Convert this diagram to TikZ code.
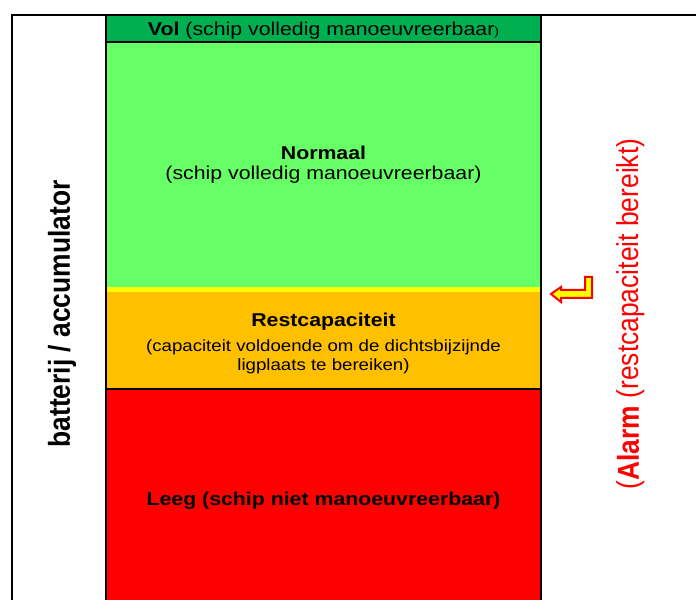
\documentclass[tikz,border=0pt]{standalone}
\usepackage{fontspec}
\setmainfont{Liberation Sans}
\usetikzlibrary{positioning}

\definecolor{volgroen}{HTML}{00B050}
\definecolor{normaalgroen}{HTML}{66FF66}
\definecolor{grensgeel}{HTML}{FFFF00}
\definecolor{restoranje}{HTML}{FFC000}
\definecolor{leegrood}{HTML}{FF0000}

\tikzset{
  blok/.style={rectangle, inner sep=0pt, outer sep=0pt, minimum width=435pt, anchor=north west},
  tekst/.style={font=\fontsize{18.6}{21}\selectfont, xscale=1.145, transform shape, anchor=base, inner sep=0pt},
  kleintekst/.style={font=\fontsize{16.3}{19}\selectfont, xscale=1.145, transform shape, anchor=base, inner sep=0pt},
  zijtekst/.style={font=\fontsize{26.4}{30}\selectfont, rotate=90, yscale=1.145, transform shape, inner sep=0pt},
  lijn/.style={line width=2pt}
}

\begin{document}
\begin{tikzpicture}[x=1pt, y=1pt]
  \useasboundingbox (0,0) rectangle (696,600);

  % Blocks of the battery column
  \node[blok, fill=volgroen, minimum height=27pt] (vol) at (106,585) {};
  \node[blok, fill=normaalgroen, minimum height=245pt, below=0pt of vol] (normaal) {};
  \node[blok, fill=grensgeel, minimum height=5pt, below=0pt of normaal] (grens) {};
  \node[blok, fill=restoranje, minimum height=97pt, below=0pt of grens] (rest) {};
  \node[blok, fill=leegrood, minimum height=211pt, below=0pt of rest] (leeg) {};

  % Frame and separators
  \draw[lijn] (12,0) |- (696,585);
  \draw[lijn] (leeg.south west) -- (vol.north west) -- (vol.north east) -- (leeg.south east);
  \draw[lijn] (vol.south west) -- (vol.south east);
  \draw[lijn] (leeg.north west) -- (leeg.north east);

  % Texts in the blocks
  \node[tekst] (voltekst) at (323.5,564) {\textbf{Vol} (schip volledig manoeuvreerbaar{\fontsize{12}{14}\selectfont)}};
  \node[tekst] (normaaltitel) at (323.5,440.7) {\textbf{Normaal}};
  \node[tekst] (normaaltekst) at (323.5,420) {(schip volledig manoeuvreerbaar)};
  \node[tekst] (resttitel) at (323.5,273) {\textbf{Restcapaciteit}};
  \node[kleintekst] (resttekst1) at (323.5,248.3) {(capaciteit voldoende om de dichtsbijzijnde};
  \node[kleintekst] (resttekst2) at (323.5,229.3) {ligplaats te bereiken)};
  \node[tekst] (leegtekst) at (323.5,94.5) {\textbf{Leeg (schip niet manoeuvreerbaar)}};

  % Side labels
  \node[zijtekst] (batterij) at (62,286) {\textbf{batterij / accumulator}};
  \node[zijtekst, text=leegrood] (alarm) at (631,286) {(\textbf{Alarm} (restcapaciteit bereikt)};

  % Alarm arrow
  \draw[line width=2pt, draw=leegrood, fill=grensgeel]
    (592,323) -- (592,302) -- (561,302) -- (561,298) -- (551,306)
    -- (561,313) -- (561,310) -- (585,310) -- (585,323) -- cycle;
\end{tikzpicture}
\end{document}
